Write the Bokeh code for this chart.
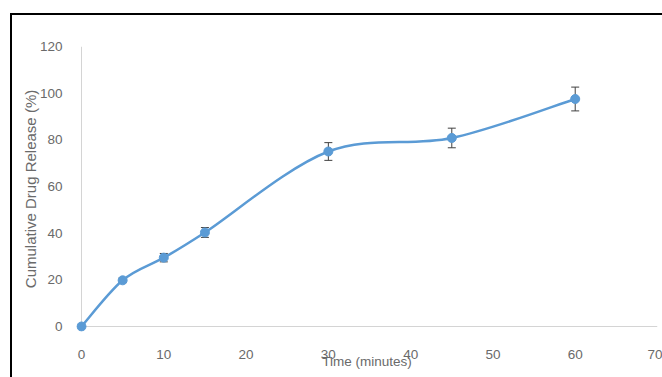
from bokeh.plotting import figure
from bokeh.models import ColumnDataSource, Whisker, TeeHead, FixedTicker, Range1d, Span
from bokeh.embed import file_html
from bokeh.resources import INLINE

# ---- data ----
time_min = [0, 5, 10, 15, 30, 45, 60]
release = [0, 19.8, 29.5, 40.3, 75.0, 80.8, 97.5]
err = [0.0, 1.0, 1.8, 2.1, 3.8, 4.2, 5.1]
x_ticks = [0, 10, 20, 30, 40, 50, 60, 70]
y_ticks = [0, 20, 40, 60, 80, 100, 120]
x_label = "Time (minutes)"
y_label = "Cumulative Drug Release (%)"

BLUE = "#5b9bd5"
GRAY_TXT = "#6a6a6a"
AXIS_C = "#d4d4d4"

p = figure(width=662, height=377, output_backend="svg", toolbar_location=None,
           x_range=Range1d(-0.6076, 70), y_range=Range1d(-2.143, 120),
           min_border_left=76, min_border_right=5, min_border_top=46, min_border_bottom=46)
p.frame_width = 581
p.frame_height = 285

# transparent outer area so the page background (with the picture's black
# top/left edge) shows through; plot area stays white
p.border_fill_color = None
p.background_fill_color = "white"
p.styles = {
    "background": ("linear-gradient(black, black) 10px 13px / 660px 2px no-repeat, "
                   "linear-gradient(black, black) 10px 13px / 2px 370px no-repeat, white"),
}

p.xgrid.grid_line_color = None
p.ygrid.grid_line_color = None
p.outline_line_color = None

for ax in (p.xaxis[0], p.yaxis[0]):
    ax.axis_line_color = None
    ax.major_tick_line_color = None
    ax.minor_tick_line_color = None
    ax.major_label_text_color = GRAY_TXT
    ax.major_label_text_font = "Liberation Sans"
    ax.major_label_text_font_size = "13.5px"
    ax.axis_label_text_color = GRAY_TXT
    ax.axis_label_text_font = "Liberation Sans"
    ax.axis_label_text_font_style = "normal"

p.xaxis.ticker = FixedTicker(ticks=x_ticks)
p.yaxis.ticker = FixedTicker(ticks=y_ticks)
p.xaxis.major_label_standoff = 12
p.yaxis.major_label_standoff = 8
p.xaxis.axis_label = x_label
p.yaxis.axis_label = y_label
p.xaxis.axis_label_text_font_size = "13.5px"
p.yaxis.axis_label_text_font_size = "15px"
p.xaxis.axis_label_standoff = -8
p.yaxis.axis_label_standoff = -2

# axis lines at zero
p.add_layout(Span(location=0, dimension="width", line_color=AXIS_C, line_width=1, level="underlay"))
p.add_layout(Span(location=0, dimension="height", line_color=AXIS_C, line_width=1, level="underlay"))

# smoothed line (Catmull-Rom style bezier segments, like Excel's smoothed line)
n = len(time_min)
x0, y0, x1, y1, cx0, cy0, cx1, cy1 = [], [], [], [], [], [], [], []
for i in range(n - 1):
    pa = (time_min[max(i - 1, 0)], release[max(i - 1, 0)])
    pb = (time_min[i], release[i])
    pc = (time_min[i + 1], release[i + 1])
    pd = (time_min[min(i + 2, n - 1)], release[min(i + 2, n - 1)])
    x0.append(pb[0]); y0.append(pb[1]); x1.append(pc[0]); y1.append(pc[1])
    cx0.append(pb[0] + (pc[0] - pa[0]) / 6.0)
    cy0.append(pb[1] + (pc[1] - pa[1]) / 6.0)
    cx1.append(pc[0] - (pd[0] - pb[0]) / 6.0)
    cy1.append(pc[1] - (pd[1] - pb[1]) / 6.0)
p.bezier(x0=x0, y0=y0, x1=x1, y1=y1, cx0=cx0, cy0=cy0, cx1=cx1, cy1=cy1,
         line_color=BLUE, line_width=2.5)

src = ColumnDataSource(dict(
    x=time_min, y=release,
    lo=[r - e for r, e in zip(release, err)],
    hi=[r + e for r, e in zip(release, err)],
))
w = Whisker(source=src, base="x", lower="lo", upper="hi",
            line_color="#404040", line_width=1,
            upper_head=TeeHead(size=8, line_color="#404040", line_width=1),
            lower_head=TeeHead(size=8, line_color="#404040", line_width=1),
            level="underlay")
p.add_layout(w)

p.scatter(x="x", y="y", source=src, size=9, fill_color=BLUE, line_color=BLUE)

open("out.html", "w").write(file_html(p, INLINE))
